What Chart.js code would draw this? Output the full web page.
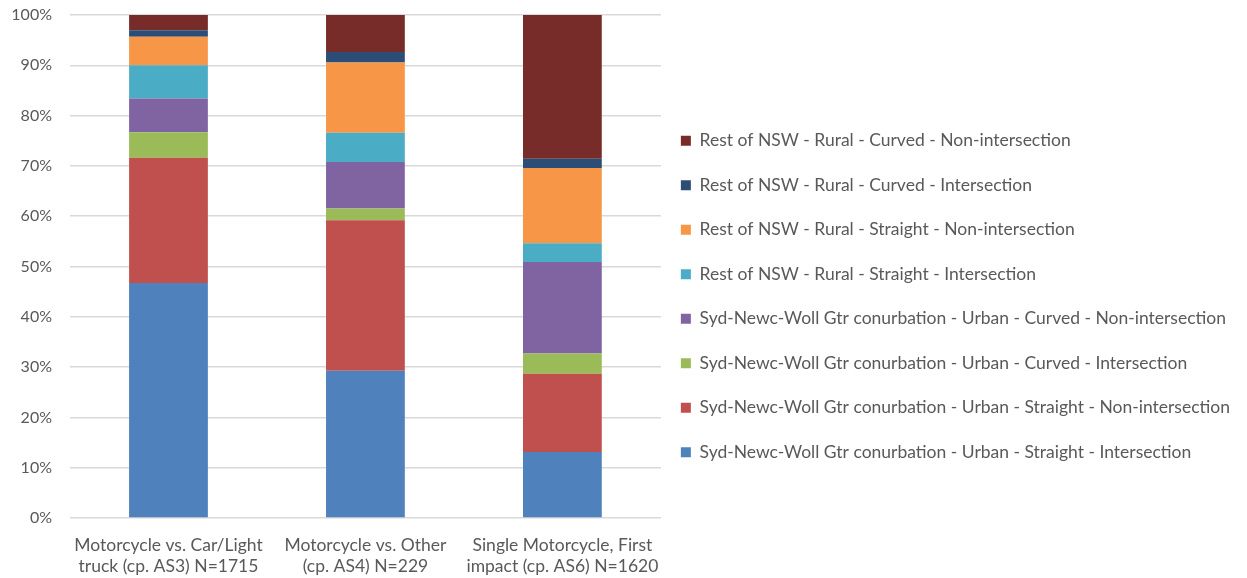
<!DOCTYPE html>
<html>
<head>
<meta charset="utf-8">
<script src="https://cdn.jsdelivr.net/npm/chart.js@4.4.1/dist/chart.umd.min.js"></script>
<style>
  html, body { margin: 0; padding: 0; background: #ffffff; }
  #wrap { width: 1247px; height: 578px; }
</style>
</head>
<body>
<div id="wrap"><canvas id="chart" width="1247" height="578"></canvas></div>
<script>
// Crash configuration categories (two-line axis labels)
const categories = [
  ['Motorcycle vs. Car/Light', 'truck (cp. AS3) N=1715'],
  ['Motorcycle vs. Other', '(cp. AS4) N=229'],
  ['Single Motorcycle, First', 'impact (cp. AS6) N=1620']
];

// Share of crashes (%) by location / road type, per category
const urbanStraightInt    = [46.7, 29.25, 13.1];
const urbanStraightNonInt = [24.9, 29.95, 15.6];
const urbanCurvedInt      = [5.1, 2.35, 4.0];
const urbanCurvedNonInt   = [6.7, 9.25, 18.2];
const ruralStraightInt    = [6.6, 5.8, 3.7];
const ruralStraightNonInt = [5.7, 13.95, 15.0];
const ruralCurvedInt      = [1.25, 2.1, 1.8];
const ruralCurvedNonInt   = [3.05, 7.35, 28.6];

const seriesNames = [
  'Syd-Newc-Woll Gtr conurbation - Urban - Straight - Intersection',
  'Syd-Newc-Woll Gtr conurbation - Urban - Straight - Non-intersection',
  'Syd-Newc-Woll Gtr conurbation - Urban - Curved - Intersection',
  'Syd-Newc-Woll Gtr conurbation - Urban - Curved - Non-intersection',
  'Rest of NSW - Rural - Straight - Intersection',
  'Rest of NSW - Rural - Straight - Non-intersection',
  'Rest of NSW - Rural - Curved - Intersection',
  'Rest of NSW - Rural - Curved - Non-intersection'
];
const seriesValues = [
  urbanStraightInt, urbanStraightNonInt, urbanCurvedInt, urbanCurvedNonInt,
  ruralStraightInt, ruralStraightNonInt, ruralCurvedInt, ruralCurvedNonInt
];
const seriesColors = [
  '#4F81BD', '#C0504D', '#9BBB59', '#8064A2',
  '#4BACC6', '#F79646', '#2C4D75', '#772C2A'
];

// y axis ticks: 0% .. 100% in steps of 10
const yTickValues = [0, 10, 20, 30, 40, 50, 60, 70, 80, 90, 100];

Chart.defaults.font.family = 'Lato, "Open Sans", sans-serif';
Chart.defaults.font.size = 17.5;
Chart.defaults.color = '#595959';

// Pull the legend block a little closer to the plot area
const legendNudge = {
  id: 'legendNudge',
  afterLayout(chart) {
    if (chart.legend) {
      chart.legend.left -= 7;
      chart.legend.right -= 7;
    }
  }
};

new Chart(document.getElementById('chart'), {
  type: 'bar',
  data: {
    labels: categories,
    datasets: seriesNames.map((name, i) => ({
      label: name,
      data: seriesValues[i],
      backgroundColor: seriesColors[i],
      borderWidth: 0,
      categoryPercentage: 1.0,
      barPercentage: 0.4
    }))
  },
  plugins: [legendNudge],
  options: {
    responsive: false,
    animation: false,
    layout: { padding: { top: 15, bottom: 0, left: 0, right: 0 } },
    plugins: {
      tooltip: { enabled: false },
      legend: {
        position: 'right',
        align: 'center',
        reverse: true,
        maxWidth: 590,
        labels: {
          boxWidth: 10,
          boxHeight: 10,
          padding: 27,
          color: '#595959',
          font: { size: 17.5 }
        }
      }
    },
    scales: {
      x: {
        stacked: true,
        afterFit: (scale) => { scale.height = 60; },
        grid: { display: false },
        border: { display: false },
        ticks: { padding: 9, maxRotation: 0, font: { size: 17.5, lineHeight: 1.2 } }
      },
      y: {
        stacked: true,
        min: 0,
        max: 100,
        afterBuildTicks: (scale) => {
          scale.ticks = yTickValues.map(v => ({ value: v }));
        },
        afterFit: (scale) => {
          scale.width = 70;
          scale.paddingTop = 0;
          scale.paddingBottom = 0;
        },
        grid: { color: '#D9D9D9', lineWidth: 1.5, drawTicks: false },
        border: { display: false },
        ticks: {
          padding: 18,
          font: { size: 16 },
          callback: (v) => v + '%'
        }
      }
    }
  }
});
</script>
</body>
</html>
